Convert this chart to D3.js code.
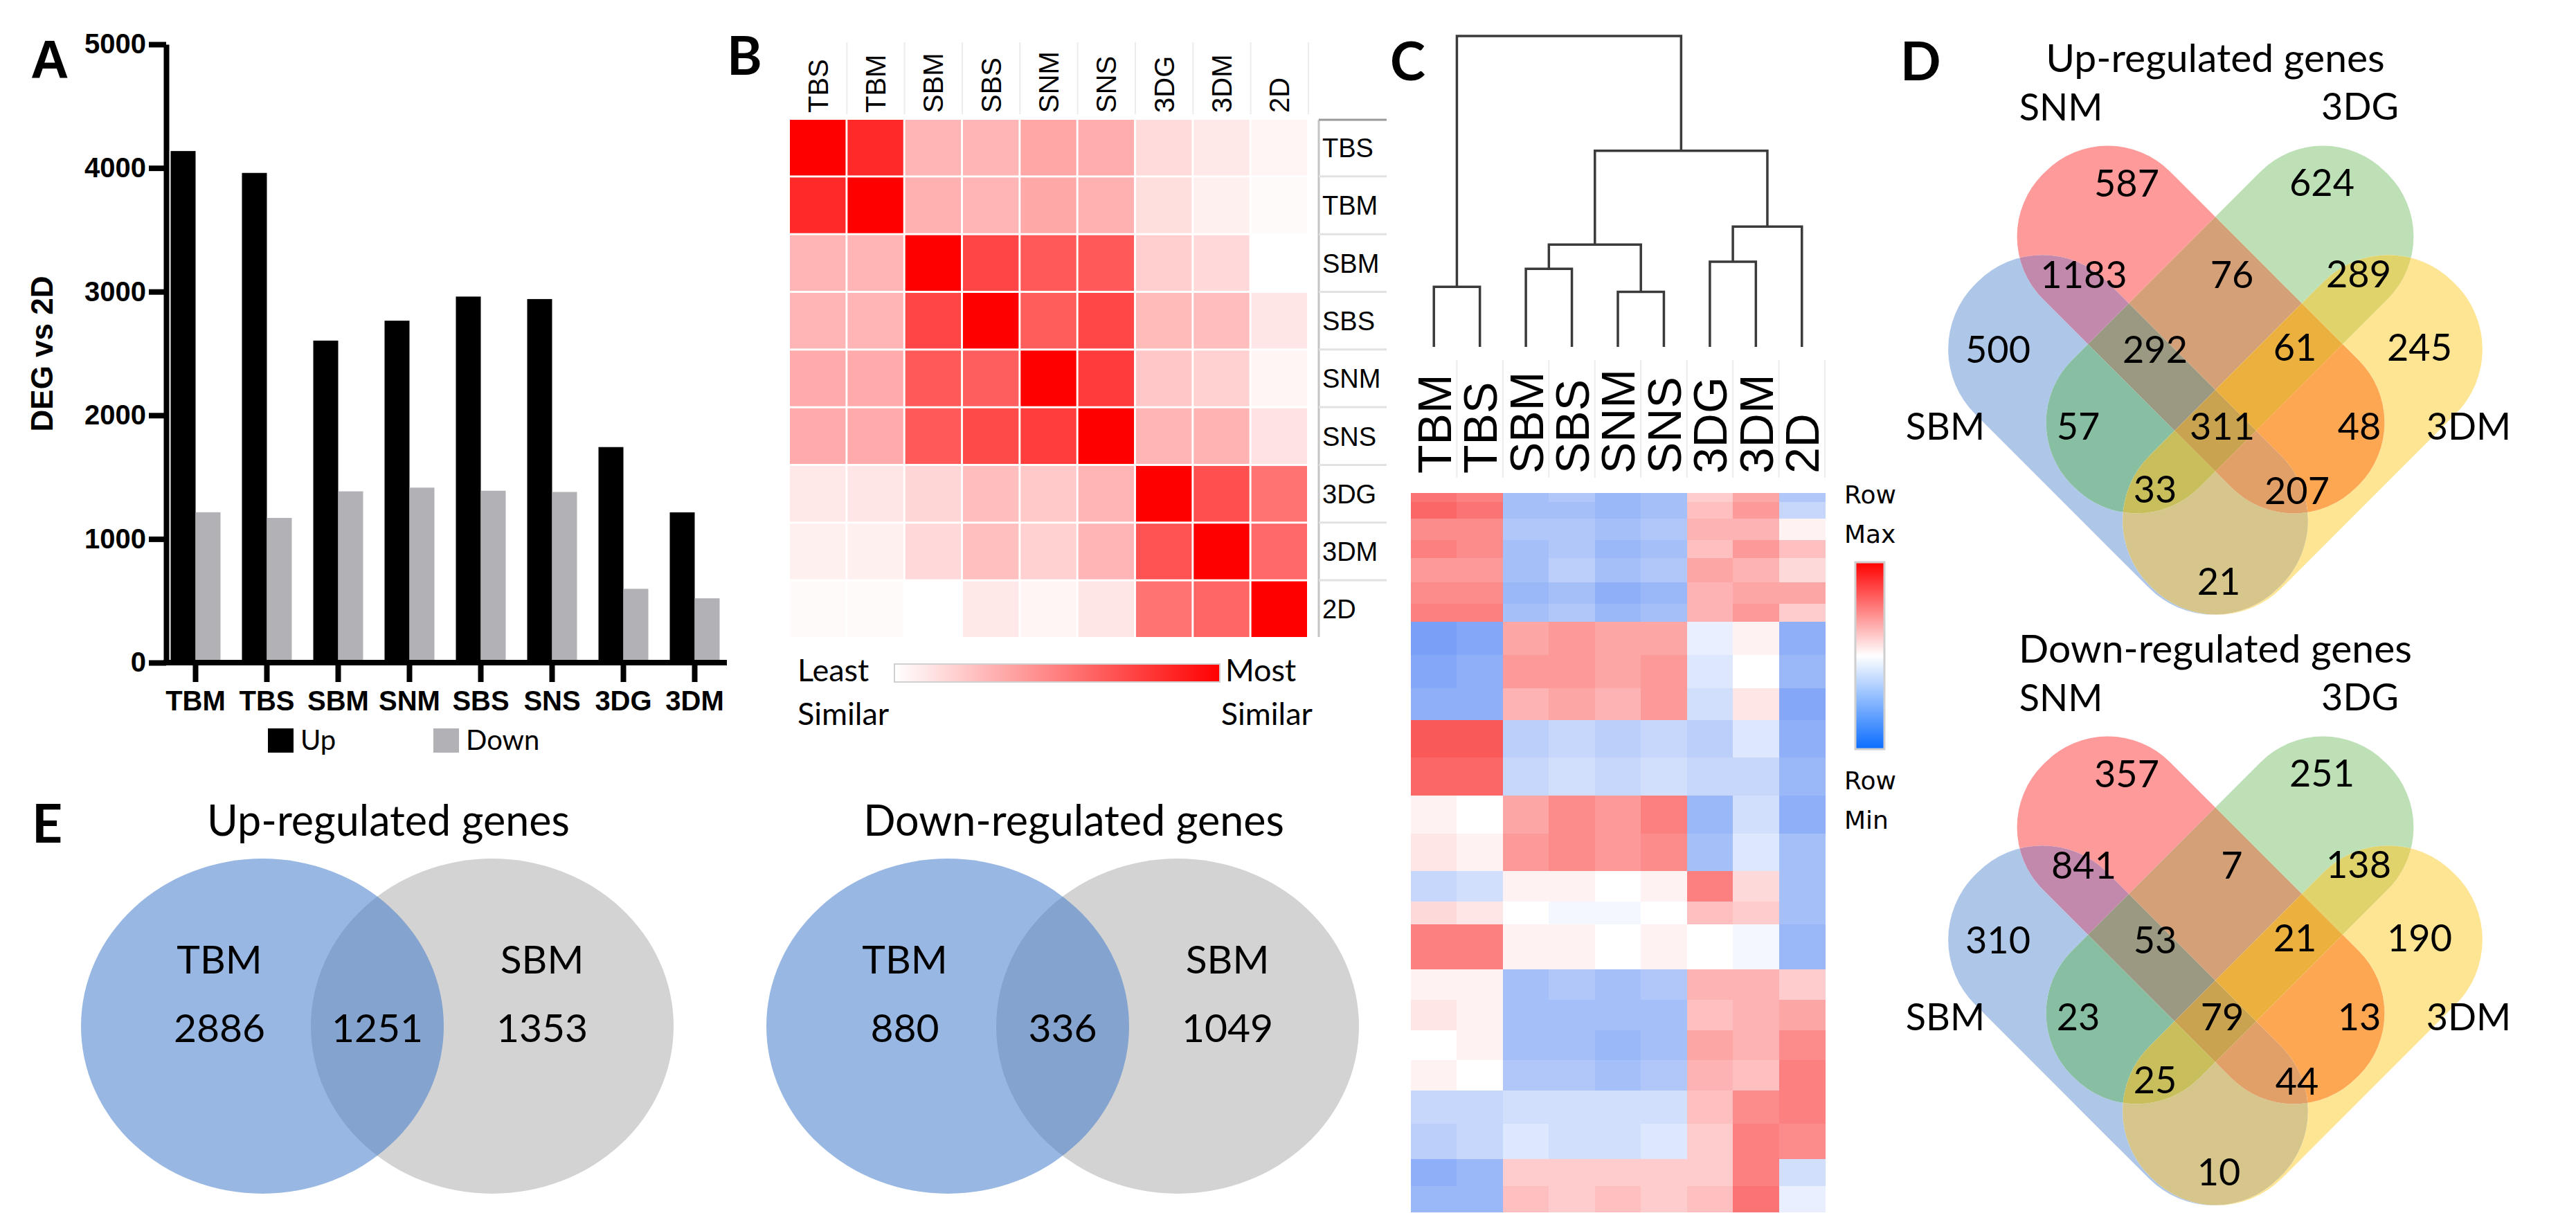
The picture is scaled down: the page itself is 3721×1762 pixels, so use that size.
<!DOCTYPE html>
<html>
<head>
<meta charset="utf-8">
<script src="https://cdn.jsdelivr.net/npm/d3@7"></script>
<style>
  body { margin: 0; background: #fff; }
  svg { display: block; }
</style>
</head>
<body>
<svg id="fig" width="3721" height="1762"></svg>
<script>
// ---------- data ----------
const degGroups = ['TBM', 'TBS', 'SBM', 'SNM', 'SBS', 'SNS', '3DG', '3DM'];
const degUp = [4137, 3960, 2604, 2765, 2960, 2940, 1743, 1215];
const degDown = [1216, 1170, 1385, 1415, 1390, 1380, 597, 520];
const degTicks = [0, 1000, 2000, 3000, 4000, 5000];

const simSamples = ['TBS', 'TBM', 'SBM', 'SBS', 'SNM', 'SNS', '3DG', '3DM', '2D'];
const simMatrix = [
  [1.00, 0.84, 0.29, 0.29, 0.35, 0.32, 0.14, 0.09, 0.04],
  [0.84, 1.00, 0.31, 0.29, 0.34, 0.31, 0.13, 0.06, 0.02],
  [0.29, 0.29, 1.00, 0.73, 0.65, 0.65, 0.19, 0.15, 0.00],
  [0.29, 0.29, 0.73, 1.00, 0.64, 0.72, 0.27, 0.26, 0.10],
  [0.33, 0.33, 0.65, 0.63, 1.00, 0.77, 0.22, 0.18, 0.04],
  [0.33, 0.33, 0.65, 0.71, 0.76, 1.00, 0.29, 0.30, 0.11],
  [0.09, 0.10, 0.16, 0.26, 0.21, 0.29, 1.00, 0.69, 0.55],
  [0.06, 0.06, 0.15, 0.25, 0.18, 0.29, 0.68, 1.00, 0.59],
  [0.02, 0.02, 0.00, 0.09, 0.04, 0.10, 0.55, 0.60, 1.00]
];

const cluSamples = ['TBM', 'TBS', 'SBM', 'SBS', 'SNM', 'SNS', '3DG', '3DM', '2D'];
// hclust style merge table: negative = leaf index (1-based), positive = earlier merge
const cluMerge = [[-1, -2], [-3, -4], [-5, -6], [2, 3], [-7, -8], [5, -9], [4, 6], [1, 7]];
const cluHeight = [0.193, 0.251, 0.177, 0.329, 0.274, 0.387, 0.631, 1.0];
// row blocks of the row-scaled gene heatmap: number of rows, and value per sample
const geneBandRows = [6, 11, 14, 12, 16, 14, 12, 22, 22, 21, 25, 25, 25, 25, 20, 15, 30,
                      20, 20, 20, 20, 22, 23, 18, 17];
const geneBandZ = [
  [0.55, 0.50, -0.40, -0.35, -0.45, -0.40, 0.20, 0.35, -0.35],
  [0.60, 0.55, -0.40, -0.40, -0.45, -0.40, 0.25, 0.40, -0.25],
  [0.45, 0.45, -0.35, -0.35, -0.40, -0.35, 0.30, 0.30, 0.05],
  [0.50, 0.45, -0.40, -0.35, -0.45, -0.40, 0.25, 0.40, 0.25],
  [0.40, 0.40, -0.40, -0.30, -0.40, -0.35, 0.35, 0.30, 0.15],
  [0.45, 0.45, -0.45, -0.40, -0.50, -0.45, 0.30, 0.35, 0.35],
  [0.50, 0.50, -0.40, -0.35, -0.45, -0.40, 0.30, 0.40, 0.20],
  [-0.60, -0.55, 0.35, 0.40, 0.35, 0.35, -0.10, 0.05, -0.50],
  [-0.55, -0.50, 0.40, 0.40, 0.35, 0.40, -0.15, 0.00, -0.45],
  [-0.50, -0.50, 0.30, 0.35, 0.30, 0.40, -0.20, 0.10, -0.55],
  [0.65, 0.65, -0.30, -0.25, -0.30, -0.25, -0.30, -0.15, -0.50],
  [0.60, 0.60, -0.25, -0.20, -0.25, -0.20, -0.25, -0.25, -0.45],
  [0.05, 0.00, 0.35, 0.45, 0.40, 0.50, -0.45, -0.20, -0.50],
  [0.10, 0.05, 0.40, 0.45, 0.40, 0.45, -0.40, -0.15, -0.40],
  [-0.25, -0.20, 0.05, 0.05, 0.00, 0.05, 0.50, 0.15, -0.40],
  [0.15, 0.10, 0.00, -0.05, -0.05, 0.00, 0.25, 0.20, -0.40],
  [0.50, 0.50, 0.05, 0.05, 0.00, 0.05, 0.00, -0.05, -0.45],
  [0.05, 0.05, -0.40, -0.35, -0.40, -0.35, 0.30, 0.30, 0.20],
  [0.10, 0.05, -0.40, -0.40, -0.40, -0.40, 0.25, 0.30, 0.35],
  [0.00, 0.05, -0.40, -0.40, -0.45, -0.40, 0.35, 0.30, 0.45],
  [0.05, 0.00, -0.35, -0.35, -0.40, -0.35, 0.30, 0.25, 0.50],
  [-0.25, -0.25, -0.20, -0.20, -0.20, -0.20, 0.25, 0.45, 0.50],
  [-0.30, -0.25, -0.15, -0.20, -0.20, -0.15, 0.20, 0.50, 0.45],
  [-0.50, -0.45, 0.20, 0.20, 0.20, 0.20, 0.20, 0.50, -0.20],
  [-0.45, -0.45, 0.25, 0.20, 0.25, 0.20, 0.25, 0.55, -0.10]
];

const quadSets = ['SBM', 'SNM', '3DG', '3DM'];
// region membership in quadSets order
const quadRegions = ['1000', '0100', '0010', '0001', '1100', '0110', '0011', '1001',
                     '1010', '0101', '1110', '0111', '1011', '1101', '1111'];
const quadUp = [500, 587, 624, 245, 1183, 76, 289, 21, 57, 48, 292, 61, 33, 207, 311];
const quadDown = [310, 357, 251, 190, 841, 7, 138, 10, 23, 13, 53, 21, 25, 44, 79];

const pairSets = ['TBM', 'SBM'];
const pairUp = [2886, 1251, 1353];
const pairDown = [880, 336, 1049];

// ---------- layout / style ----------
const ARIAL = '"Liberation Sans", Arial, sans-serif';
const CAL = 'Lato, "Open Sans", sans-serif';
const svg = d3.select('#fig');
svg.append('rect').attr('width', 3721).attr('height', 1762).attr('fill', '#fff');

const letters = [
  { t: 'A', x: 44, y: 113, f: ARIAL },
  { t: 'B', x: 1050, y: 108, f: CAL },
  { t: 'C', x: 2008, y: 116, f: CAL },
  { t: 'D', x: 2745, y: 116, f: CAL },
  { t: 'E', x: 46, y: 1217, f: CAL }
];
svg.selectAll('text.letter').data(letters).join('text')
  .attr('x', d => d.x).attr('y', d => d.y)
  .attr('font-family', d => d.f).attr('font-weight', 'bold').attr('font-size', 77)
  .text(d => d.t);

// ---------- A: bar chart ----------
const yDeg = d3.scaleLinear().domain([0, 5000]).range([957, 64]);
const xDeg = d3.scaleBand().domain(degGroups).range([231, 1055]);
const xDir = d3.scaleBand().domain(['Up', 'Down']).range([-36, 36]);
const dirColor = { Up: '#000000', Down: '#b1b1b6' };
const degRows = degGroups.flatMap((g, i) => [
  { g, dir: 'Up', v: degUp[i] },
  { g, dir: 'Down', v: degDown[i] }
]);
const gA = svg.append('g');
gA.selectAll('rect.bar').data(degRows).join('rect')
  .attr('x', d => xDeg(d.g) + xDeg.bandwidth() / 2 + xDir(d.dir))
  .attr('y', d => yDeg(d.v))
  .attr('width', xDir.bandwidth())
  .attr('height', d => yDeg(0) - yDeg(d.v))
  .attr('fill', d => dirColor[d.dir]);

gA.append('g').attr('transform', 'translate(240,0)')
  .call(d3.axisLeft(yDeg).tickValues(degTicks).tickFormat(d3.format('d'))
    .tickSize(25).tickSizeOuter(0).tickPadding(4))
  .call(g => g.selectAll('path,line').attr('stroke', '#000').attr('stroke-width', 8))
  .call(g => g.selectAll('text').attr('font-family', ARIAL).attr('font-weight', 'bold')
    .attr('font-size', 40).attr('fill', '#000'));

gA.append('line').attr('x1', 236).attr('x2', 1050).attr('y1', yDeg(0)).attr('y2', yDeg(0))
  .attr('stroke', '#000').attr('stroke-width', 8);
gA.selectAll('line.xt').data(degGroups).join('line')
  .attr('x1', d => xDeg(d) + xDeg.bandwidth() / 2).attr('x2', d => xDeg(d) + xDeg.bandwidth() / 2)
  .attr('y1', yDeg(0)).attr('y2', yDeg(0) + 28)
  .attr('stroke', '#000').attr('stroke-width', 8);
gA.selectAll('text.xl').data(degGroups).join('text')
  .attr('x', d => xDeg(d) + xDeg.bandwidth() / 2).attr('y', 1026)
  .attr('text-anchor', 'middle').attr('font-family', ARIAL).attr('font-weight', 'bold')
  .attr('font-size', 40).text(d => d);
gA.append('text').attr('transform', 'translate(76,511) rotate(-90)')
  .attr('text-anchor', 'middle').attr('font-family', ARIAL).attr('font-weight', 'bold')
  .attr('font-size', 44).text('DEG vs 2D');

const legA = [{ k: 'Up', x: 387 }, { k: 'Down', x: 626 }];
gA.selectAll('rect.leg').data(legA).join('rect')
  .attr('x', d => d.x).attr('y', 1052).attr('width', 37).attr('height', 35)
  .attr('fill', d => dirColor[d.k]);
gA.selectAll('text.leg').data(legA).join('text')
  .attr('x', d => d.x + 47).attr('y', 1083)
  .attr('font-family', CAL).attr('font-size', 40).text(d => d.k);

// ---------- B: similarity heatmap ----------
const xSim = d3.scaleBand().domain(simSamples).range([1141, 1888]).paddingInner(0.035);
const ySim = d3.scaleBand().domain(simSamples).range([173, 920]).paddingInner(0.035);
const simColor = d3.interpolateRgb('#ffffff', '#ff0000');
const gB = svg.append('g');
const simCells = simSamples.flatMap((r, i) => simSamples.map((c, j) => ({ r, c, v: simMatrix[i][j] })));
gB.selectAll('rect.cell').data(simCells).join('rect')
  .attr('x', d => xSim(d.c)).attr('y', d => ySim(d.r))
  .attr('width', xSim.bandwidth()).attr('height', ySim.bandwidth())
  .attr('fill', d => simColor(d.v));
const step = xSim.step();
gB.selectAll('line.csep').data(simSamples).join('line')
  .attr('x1', d => xSim(d) + step - 1).attr('x2', d => xSim(d) + step - 1)
  .attr('y1', 61).attr('y2', 165).attr('stroke', '#ececec').attr('stroke-width', 2);
gB.selectAll('text.cl').data(simSamples).join('text')
  .attr('transform', d => `translate(${xSim(d) + xSim.bandwidth() / 2},163) rotate(-90)`)
  .attr('dy', '0.36em').attr('font-family', ARIAL).attr('font-size', 40).text(d => d);
gB.append('line').attr('x1', 1905).attr('x2', 1905).attr('y1', 173).attr('y2', 920)
  .attr('stroke', '#c4c4c4').attr('stroke-width', 3);
gB.selectAll('line.rsep').data(simSamples).join('line')
  .attr('x1', 1905).attr('x2', 2003)
  .attr('y1', (d, i) => ySim(d) - (i ? 1.5 : 0)).attr('y2', (d, i) => ySim(d) - (i ? 1.5 : 0))
  .attr('stroke', (d, i) => i ? '#e2e2e2' : '#9a9a9a').attr('stroke-width', 3);
gB.selectAll('text.rl').data(simSamples).join('text')
  .attr('x', 1910).attr('y', d => ySim(d) + ySim.bandwidth() / 2)
  .attr('dy', '0.36em').attr('font-family', ARIAL).attr('font-size', 38).text(d => d);

const defs = svg.append('defs');
const gradB = defs.append('linearGradient').attr('id', 'gradB');
gradB.append('stop').attr('offset', '0%').attr('stop-color', '#ffffff');
gradB.append('stop').attr('offset', '100%').attr('stop-color', '#ff0000');
gB.append('rect').attr('x', 1292).attr('y', 959).attr('width', 470).attr('height', 26)
  .attr('fill', 'url(#gradB)').attr('stroke', '#d0d0d0').attr('stroke-width', 2);
const legB = [
  { t: 'Least', x: 1152, y: 984, a: 'start' }, { t: 'Similar', x: 1152, y: 1047, a: 'start' },
  { t: 'Most', x: 1770, y: 984, a: 'start' }, { t: 'Similar', x: 1896, y: 1047, a: 'end' }
];
gB.selectAll('text.lg').data(legB).join('text')
  .attr('x', d => d.x).attr('y', d => d.y).attr('text-anchor', d => d.a)
  .attr('font-family', CAL).attr('font-size', 45).text(d => d.t);

// ---------- C: dendrogram + gene heatmap ----------
const gC = svg.append('g');
const xClu = d3.scaleBand().domain(cluSamples).range([2038, 2636]);
const yDen = d3.scaleLinear().domain([0, 1]).range([501, 52]);
const nodes = [];
const nodePos = k => k < 0
  ? { x: xClu(cluSamples[-k - 1]) + xClu.bandwidth() / 2, y: yDen(0) }
  : nodes[k - 1];
cluMerge.forEach(([a, b], i) => {
  const pa = nodePos(a), pb = nodePos(b);
  nodes.push({ x: (pa.x + pb.x) / 2, y: yDen(cluHeight[i]), pa, pb });
});
gC.selectAll('path.den').data(nodes).join('path')
  .attr('d', n => `M${n.pa.x},${n.pa.y}V${n.y}H${n.pb.x}V${n.pb.y}`)
  .attr('fill', 'none').attr('stroke', '#3a3a3a').attr('stroke-width', 3.5);

gC.selectAll('line.csep').data(cluSamples).join('line')
  .attr('x1', d => xClu(d) + xClu.step()).attr('x2', d => xClu(d) + xClu.step())
  .attr('y1', 520).attr('y2', 690).attr('stroke', '#ececec').attr('stroke-width', 2);
gC.selectAll('text.cl').data(cluSamples).join('text')
  .attr('transform', d => `translate(${xClu(d) + xClu.bandwidth() / 2},684) rotate(-90)`)
  .attr('dy', '0.36em').attr('font-family', ARIAL).attr('font-size', 68).text(d => d);

const rowStart = [0, ...d3.cumsum(geneBandRows)];
const yGene = d3.scaleLinear().domain([0, d3.sum(geneBandRows)]).range([712, 1750]);
const zColor = d3.scaleLinear().domain([-1, 0, 1]).range(['#1f5ff0', '#ffffff', '#f80000']).clamp(true);
const geneCells = geneBandZ.flatMap((row, b) => row.map((v, j) => ({ b, s: cluSamples[j], v })));
gC.selectAll('rect.gene').data(geneCells).join('rect')
  .attr('x', d => xClu(d.s)).attr('width', xClu.bandwidth() + 0.5)
  .attr('y', d => yGene(rowStart[d.b])).attr('height', d => yGene(rowStart[d.b + 1]) - yGene(rowStart[d.b]) + 0.5)
  .attr('fill', d => zColor(d.v)).attr('shape-rendering', 'crispEdges');

const gradC = defs.append('linearGradient').attr('id', 'gradC').attr('x1', 0).attr('x2', 0).attr('y1', 0).attr('y2', 1);
[['0%', '#ff0000'], ['50%', '#ffffff'], ['100%', '#0a6cff']].forEach(([o, c]) =>
  gradC.append('stop').attr('offset', o).attr('stop-color', c));
gC.append('rect').attr('x', 2680).attr('y', 812).attr('width', 42).attr('height', 270)
  .attr('fill', 'url(#gradC)').attr('stroke', '#cfcfcf').attr('stroke-width', 3);
const legC = [['Row', 727], ['Max', 784], ['Row', 1140], ['Min', 1197]];
gC.selectAll('text.lg').data(legC).join('text')
  .attr('x', 2664).attr('y', d => d[1]).attr('font-family', '"DejaVu Sans", sans-serif')
  .attr('font-size', 36).text(d => d[0]);

// ---------- D: four-set Venn diagrams ----------
// shape placement per set (SBM, SNM, 3DG, 3DM): centre offset, rotation and size
const quadPlace = [
  { dx: -126, dy: 88, rot: 45, len: 620, wid: 270 },
  { dx: -21, dy: -64, rot: 45, len: 640, wid: 260 },
  { dx: 21, dy: -64, rot: -45, len: 640, wid: 260 },
  { dx: 126, dy: 88, rot: -45, len: 620, wid: 270 }
];
const quadColor = ['#aec6e8', '#ff9a9a', '#bee0b7', '#fde594', '#c289ac', '#d4a078', '#e0d36c',
  '#d6c68c', '#88bfa3', '#fea753', '#9b9982', '#ebb03e', '#c8bf5c', '#e0a068', '#c9a34f'];
const quadAnchor = {
  '1000': [-314, -35], '0100': [-128, -275], '0010': [154, -276], '0001': [295, -38],
  '1100': [-190, -143], '0110': [24, -143], '0011': [207, -144], '1001': [5, 300],
  '1010': [-198, 76], '0101': [208, 76], '1110': [-87, -35], '0111': [115, -38],
  '1011': [-87, 167], '1101': [118, 169], '1111': [10, 76]
};
const quadLabel = [[-390, 76], [-223, -385], [209, -386], [366, 76]];

function roundRect(w, h, r) {
  const p = d3.path();
  const x0 = -w / 2, y0 = -h / 2, x1 = w / 2, y1 = h / 2;
  p.moveTo(x0 + r, y0);
  p.lineTo(x1 - r, y0);
  p.arcTo(x1, y0, x1, y0 + r, r);
  p.lineTo(x1, y1 - r);
  p.arcTo(x1, y1, x1 - r, y1, r);
  p.lineTo(x0 + r, y1);
  p.arcTo(x0, y1, x0, y1 - r, r);
  p.lineTo(x0, y0 + r);
  p.arcTo(x0, y0, x0 + r, y0, r);
  p.closePath();
  return p.toString();
}
const shapeD = s => roundRect(s.len, s.wid, s.wid * 0.49);
const placeT = s => `translate(${s.dx},${s.dy}) rotate(${s.rot})`;

function drawQuad(id, cx, cy, counts, title) {
  const g = svg.append('g').attr('transform', `translate(${cx},${cy})`);
  const dq = g.append('defs');
  quadPlace.forEach((s, i) => {
    dq.append('clipPath').attr('id', `${id}c${i}`)
      .append('path').attr('d', shapeD(s)).attr('transform', placeT(s));
  });
  quadRegions.forEach((key, r) => {
    const m = dq.append('mask').attr('id', `${id}m${r}`).attr('maskUnits', 'userSpaceOnUse')
      .attr('x', -800).attr('y', -800).attr('width', 1600).attr('height', 1600);
    m.append('rect').attr('x', -800).attr('y', -800).attr('width', 1600).attr('height', 1600).attr('fill', '#fff');
    key.split('').forEach((c, i) => {
      if (c === '0') m.append('path').attr('d', shapeD(quadPlace[i])).attr('transform', placeT(quadPlace[i])).attr('fill', '#000');
    });
    let target = g;
    key.split('').forEach((c, i) => {
      if (c === '1') target = target.append('g').attr('clip-path', `url(#${id}c${i})`);
    });
    target.append('rect').attr('x', -800).attr('y', -800).attr('width', 1600).attr('height', 1600)
      .attr('fill', quadColor[r]).attr('mask', `url(#${id}m${r})`);
  });
  g.selectAll('text.n').data(quadRegions).join('text')
    .attr('x', k => quadAnchor[k][0]).attr('y', k => quadAnchor[k][1]).attr('dy', '0.36em')
    .attr('text-anchor', 'middle').attr('font-family', CAL).attr('font-size', 54)
    .text((k, i) => counts[i]);
  g.selectAll('text.s').data(quadSets).join('text')
    .attr('x', (d, i) => quadLabel[i][0]).attr('y', (d, i) => quadLabel[i][1]).attr('dy', '0.36em')
    .attr('text-anchor', 'middle').attr('font-family', CAL).attr('font-size', 54).text(d => d);
  g.append('text').attr('x', 0).attr('y', -436).attr('text-anchor', 'middle')
    .attr('font-family', CAL).attr('font-size', 57).text(title);
}
drawQuad('qu', 3200, 540, quadUp, 'Up-regulated genes');
drawQuad('qd', 3200, 1393, quadDown, 'Down-regulated genes');

// ---------- E: two-set Venn diagrams ----------
function drawPair(cx, cy, counts, title) {
  const g = svg.append('g').attr('transform', `translate(${cx},${cy})`);
  g.append('ellipse').attr('cx', 166).attr('rx', 262).attr('ry', 242).attr('fill', '#d3d3d3');
  g.append('ellipse').attr('cx', -166).attr('rx', 262).attr('ry', 242)
    .attr('fill', 'rgb(67,125,204)').attr('fill-opacity', 0.55);
  g.append('text').attr('x', 16).attr('y', -275).attr('text-anchor', 'middle')
    .attr('font-family', CAL).attr('font-size', 61).text(title);
  const lx = [-228, 238];
  g.selectAll('text.s').data(pairSets).join('text')
    .attr('x', (d, i) => lx[i]).attr('y', -97).attr('dy', '0.36em').attr('text-anchor', 'middle')
    .attr('font-family', CAL).attr('font-size', 57).text(d => d);
  const nx = [-228, 0, 238];
  g.selectAll('text.n').data(counts).join('text')
    .attr('x', (d, i) => nx[i]).attr('y', 2).attr('dy', '0.36em').attr('text-anchor', 'middle')
    .attr('font-family', CAL).attr('font-size', 57).text(d => d);
}
drawPair(545, 1482, pairUp, 'Up-regulated genes');
drawPair(1535, 1482, pairDown, 'Down-regulated genes');
</script>
</body>
</html>
